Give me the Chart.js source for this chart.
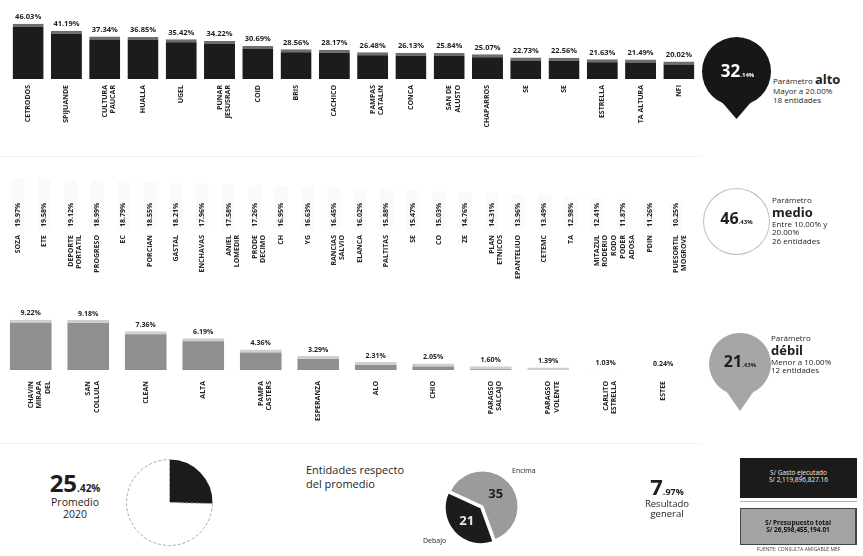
<!DOCTYPE html>
<html lang="es">
<head>
<meta charset="utf-8">
<script src="https://cdn.jsdelivr.net/npm/chart.js@4.4.1/dist/chart.umd.min.js"></script>
<style>
  body { margin: 0; background: #fff; font-family: "Open Sans", sans-serif; color: #1e1e1e; }
  #page { position: relative; width: 863px; height: 556px; overflow: hidden; }
  canvas { position: absolute; }
  .txt { position: absolute; line-height: 1.12; font-size: 8px; white-space: nowrap; }
  .sep { position: absolute; left: 0; width: 700px; border-top: 1px dotted #e2e2e2; }
</style>
</head>
<body>
<div id="page">
  <canvas id="altoChart" width="700" height="160" style="left:0px;top:0px"></canvas>
  <canvas id="medioChart" width="700" height="130" style="left:0px;top:170px"></canvas>
  <canvas id="debilChart" width="700" height="140" style="left:0px;top:300px"></canvas>

  <canvas id="altoPin" width="69" height="87" style="left:702px;top:37px"></canvas>
  <canvas id="medioPin" width="67" height="67" style="left:703px;top:188px"></canvas>
  <canvas id="debilPin" width="62" height="80" style="left:709px;top:333px"></canvas>

  <canvas id="promedioPie" width="87" height="87" style="left:126px;top:459px"></canvas>
  <canvas id="respectoPie" width="81" height="81" style="left:442px;top:466px"></canvas>

  <div class="sep" style="top:156px"></div>
  <div class="sep" style="top:443px"></div>

  <!-- group captions -->
  <div class="txt" id="altoPct" style="left:703px;top:61px;width:69px;text-align:center;color:#fff"></div>
  <div class="txt" id="medioPct" style="left:703px;top:210px;width:67px;text-align:center"></div>
  <div class="txt" id="debilPct" style="left:709px;top:353px;width:62px;text-align:center"></div>

  <div class="txt" style="left:773px;top:72px">Parámetro <b style="font-size:13px">alto</b><br>Mayor a 20.00%<br><span id="altoN"></span></div>
  <div class="txt" style="left:772px;top:196px">Parámetro<br><b style="font-size:13px">medio</b><br>Entre 10.00% y<br>20.00%<br><span id="medioN"></span></div>
  <div class="txt" style="left:771px;top:334px">Parámetro<br><b style="font-size:13px">débil</b><br>Menor a 10.00%<br><span id="debilN"></span></div>

  <div class="txt" id="promedioTxt" style="left:30px;top:470px;width:90px;text-align:center;font-size:10.5px"></div>
  <div class="txt" style="left:306px;top:463px;font-size:11px;line-height:1.3">Entidades respecto<br>del promedio</div>
  <div class="txt" id="encimaTxt" style="left:512px;top:467px;font-size:7px"></div>
  <div class="txt" id="debajoTxt" style="left:423px;top:537px;font-size:7px"></div>
  <div class="txt" id="resultadoTxt" style="left:622px;top:474px;width:90px;text-align:center;font-size:9.5px"></div>

  <div class="txt" style="left:740px;top:458px;width:117px;height:40px;background:#1b1b1b;color:#eee;font-size:6.5px;text-align:center;padding-top:11px;box-sizing:border-box">S/ Gasto ejecutado<br>S/ 2,119,896,827.16</div>
  <div style="position:absolute;left:740px;top:501px;width:117px;border-top:1px solid #b5b5b5"></div>
  <div class="txt" style="left:740px;top:508px;width:117px;height:37px;background:#a3a3a3;border:1px solid #444;border-right-width:2px;color:#111;font-size:6.5px;font-weight:700;text-align:center;padding-top:10px;box-sizing:border-box">S/ Presupuesto total<br>S/ 26,598,455,194.01</div>
  <div class="txt" style="left:740px;top:547px;width:117px;text-align:center;font-size:5px;color:#444">FUENTE: CONSULTA AMIGABLE MEF</div>
</div>

<script>
// Parámetro alto (mayor a 20%)
const altoLabels = ['CETRODOS', 'SPIJUANDE', ['CULTURA', 'PAUCAR'], 'HUALLA', 'UGEL', ['PUNAR', 'JESUSRAR'],
  'COID', 'BRIS', 'CACHICO', ['PAMPAS', 'CATALIN'], 'CONCA', ['SAN DE', 'ALUSTO'], 'CHAPARROS',
  'SE', 'SE', 'ESTRELLA', 'TA ALTURA', 'NFI'];
const altoValues = [46.03, 41.19, 37.34, 36.85, 35.42, 34.22, 30.69, 28.56, 28.17, 26.48, 26.13, 25.84,
  25.07, 22.73, 22.56, 21.63, 21.49, 20.02];

// Parámetro medio (entre 10% y 20%)
const medioLabels = ['SOZA', 'ETE', ['DEPORTE', 'PORTATIL'], 'PROGRESO', 'EC', 'PORCIAN', 'GASTAL', 'ENCHAVAS',
  ['ANIEL', 'LOMEDIR'], ['PRODE', 'DECIMO'], 'CH', 'YG', ['RANCIAS', 'SALVIO'], 'ELANCA', 'PALTITAS', 'SE',
  'CO', 'ZE', ['PLAN', 'ETNICOS'], 'EPANTELIUO', 'CETEMC', 'TA', ['MITAZUL', 'RODERIO', 'RODO'],
  ['PODER', 'ADOSA'], 'PDIN', ['PUESORTIL', 'MOGROVE']];
const medioValues = [19.97, 19.58, 19.12, 18.99, 18.79, 18.55, 18.21, 17.96, 17.58, 17.26, 16.95, 16.63, 16.45,
  16.02, 15.88, 15.47, 15.03, 14.76, 14.31, 13.96, 13.49, 12.98, 12.41, 11.87, 11.26, 10.25];

// Parámetro débil (menor a 10%)
const debilLabels = [['CHAVIN', 'MIRAPA', 'DEL'], ['SAN', 'COLLULA'], 'CLEAN', 'ALTA', ['PAMPA', 'CASTERS'],
  'ESPERANZA', 'ALO', 'CHIO', ['PARAGSO', 'SALCAJO'], ['PARAGSO', 'VOLENTE'], ['CARLITO', 'ESTRELLA'], 'ESTEE'];
const debilValues = [9.22, 9.18, 7.36, 6.19, 4.36, 3.29, 2.31, 2.05, 1.60, 1.39, 1.03, 0.24];

const groupCounts = [altoValues.length, medioValues.length, debilValues.length];
const promedio2020 = 25.42;
const respectoLabels = ['Encima', 'Debajo'];
const respectoValues = [35, 21];
const resultadoGeneral = 7.97;

const FONT = '"Open Sans", sans-serif';

// percentage text above (or rotated inside) each bar
const valueLabels = {
  id: 'valueLabels',
  afterDatasetsDraw(chart, args, opts) {
    const {ctx, chartArea} = chart;
    const data = chart.data.datasets[0].data;
    ctx.save();
    ctx.font = 'bold ' + opts.size + 'px ' + FONT;
    ctx.fillStyle = '#222';
    chart.getDatasetMeta(0).data.forEach((bar, i) => {
      const txt = data[i].toFixed(2) + '%';
      if (opts.vertical) {
        ctx.save();
        ctx.translate(bar.x, chartArea.bottom - 3);
        ctx.rotate(-Math.PI / 2);
        ctx.textAlign = 'left';
        ctx.textBaseline = 'middle';
        ctx.fillText(txt, 0, 0);
        ctx.restore();
      } else {
        ctx.textAlign = 'center';
        ctx.textBaseline = 'bottom';
        ctx.fillText(txt, bar.x, Math.min(bar.y, chartArea.bottom) - 3);
      }
    });
    ctx.restore();
  }
};

function barChart(id, labels, values, o) {
  return new Chart(document.getElementById(id), {
    type: 'bar',
    data: {
      labels: labels,
      datasets: [{
        data: values,
        backgroundColor: o.color,
        borderColor: o.topColor,
        borderWidth: {top: o.topWidth, left: 0, right: 0, bottom: 0},
        borderSkipped: 'bottom',
        barPercentage: o.barPct,
        categoryPercentage: 1,
        clip: 0
      }]
    },
    options: {
      responsive: false,
      animation: false,
      layout: {padding: o.padding},
      plugins: {legend: {display: false}, tooltip: {enabled: false}, valueLabels: o.labels},
      scales: {
        x: {
          grid: {display: false, drawTicks: false},
          border: {display: false},
          afterFit: (scale) => { scale.height = o.axisHeight; },
          ticks: {
            autoSkip: false, minRotation: 90, maxRotation: 90, padding: o.tickPad,
            color: '#262626', font: {family: FONT, size: 7, weight: 'bold'}
          }
        },
        y: {display: false, min: o.min, max: o.max}
      }
    },
    plugins: [valueLabels]
  });
}

barChart('altoChart', altoLabels, altoValues, {
  color: '#1c1c1c', topColor: '#6e6e6e', topWidth: 3, barPct: 0.81,
  padding: {left: 9, right: 2, top: 18, bottom: 0}, axisHeight: 81, tickPad: 6,
  min: 8, max: 50, labels: {size: 7.5}
});
barChart('medioChart', medioLabels, medioValues, {
  color: 'rgba(0,0,0,0.02)', topColor: 'rgba(0,0,0,0)', topWidth: 0, barPct: 0.5,
  padding: {left: 5, right: 11, top: 8, bottom: 0}, axisHeight: 70, tickPad: 5,
  min: 0, max: 20, labels: {size: 7, vertical: true}
});
barChart('debilChart', debilLabels, debilValues, {
  color: '#8f8f8f', topColor: '#cfcfcf', topWidth: 3, barPct: 0.73,
  padding: {left: 2, right: 8, top: 9, bottom: 0}, axisHeight: 70, tickPad: 11,
  min: 1, max: 11, labels: {size: 7}
});

// drop shaped marker under a round pie
const pinTip = {
  id: 'pinTip',
  beforeDatasetsDraw(chart, args, opts) {
    if (!opts.length) return;
    const arc = chart.getDatasetMeta(0).data[0];
    const r = arc.outerRadius;
    const ctx = chart.ctx;
    ctx.save();
    ctx.fillStyle = opts.color;
    ctx.beginPath();
    ctx.moveTo(arc.x - r * 0.5, arc.y + r * 0.8);
    ctx.lineTo(arc.x, arc.y + r + opts.length);
    ctx.lineTo(arc.x + r * 0.5, arc.y + r * 0.8);
    ctx.closePath();
    ctx.fill();
    ctx.restore();
  }
};

// numbers inside pie slices
const sliceLabels = {
  id: 'sliceLabels',
  afterDatasetsDraw(chart, args, opts) {
    if (!opts.colors) return;
    const ctx = chart.ctx;
    const data = chart.data.datasets[0].data;
    ctx.save();
    ctx.font = 'bold 13px ' + FONT;
    ctx.textAlign = 'center';
    ctx.textBaseline = 'middle';
    chart.getDatasetMeta(0).data.forEach((arc, i) => {
      const p = arc.tooltipPosition();
      ctx.fillStyle = opts.colors[i];
      ctx.fillText(data[i], p.x, p.y);
    });
    ctx.restore();
  }
};

function pie(id, type, values, ds, o) {
  return new Chart(document.getElementById(id), {
    type: type,
    data: {labels: o.labels || values.map(String), datasets: [Object.assign({data: values}, ds)]},
    options: {
      responsive: false,
      animation: false,
      rotation: o.rotation || 0,
      cutout: o.cutout || 0,
      layout: {padding: o.padding || 0},
      plugins: {legend: {display: false}, tooltip: {enabled: false}, pinTip: o.pin || {}, sliceLabels: o.slice || {}}
    },
    plugins: [pinTip, sliceLabels]
  });
}

pie('altoPin', 'pie', [groupCounts[0]], {backgroundColor: '#171717', borderWidth: 0},
  {padding: {bottom: 18}, pin: {length: 13, color: '#171717'}});
pie('medioPin', 'doughnut', [groupCounts[1]], {backgroundColor: '#bdbdbd', borderWidth: 0}, {cutout: '97%'});
pie('debilPin', 'pie', [groupCounts[2]], {backgroundColor: '#a6a6a6', borderWidth: 0},
  {padding: {bottom: 18}, pin: {length: 16, color: '#a6a6a6'}});

pie('promedioPie', 'pie', [promedio2020, 100 - promedio2020], {
  backgroundColor: ['#1b1b1b', '#fff'], borderColor: ['#1b1b1b', '#a8a8a8'],
  borderWidth: [0, 1], borderDash: [3, 2]
}, {});
pie('respectoPie', 'pie', respectoValues, {
  backgroundColor: ['#9b9b9b', '#1c1c1c'], borderColor: '#fff', borderWidth: 2, offset: [0, 7]
}, {labels: respectoLabels, rotation: -65, slice: {colors: ['#1e1e1e', '#e6e6e6']}});

// captions built from the same numbers
const total = groupCounts.reduce((a, b) => a + b, 0);
function bigPct(v, whole, part) {
  const [a, b] = v.toFixed(2).split('.');
  return '<b style="font-size:' + whole + 'px">' + a + '</b><b style="font-size:' + part + 'px">.' + b + '%</b>';
}
document.getElementById('altoPct').innerHTML = bigPct(groupCounts[0] / total * 100, 17, 6);
document.getElementById('medioPct').innerHTML = bigPct(groupCounts[1] / total * 100, 16, 6);
document.getElementById('debilPct').innerHTML = bigPct(groupCounts[2] / total * 100, 16, 6);
document.getElementById('altoN').textContent = groupCounts[0] + ' entidades';
document.getElementById('medioN').textContent = groupCounts[1] + ' entidades';
document.getElementById('debilN').textContent = groupCounts[2] + ' entidades';
document.getElementById('promedioTxt').innerHTML = bigPct(promedio2020, 24, 10) + '<br>Promedio<br>2020';
document.getElementById('resultadoTxt').innerHTML = bigPct(resultadoGeneral, 22, 9) + '<br>Resultado<br>general';
document.getElementById('encimaTxt').textContent = respectoLabels[0];
document.getElementById('debajoTxt').textContent = respectoLabels[1];
</script>
</body>
</html>
